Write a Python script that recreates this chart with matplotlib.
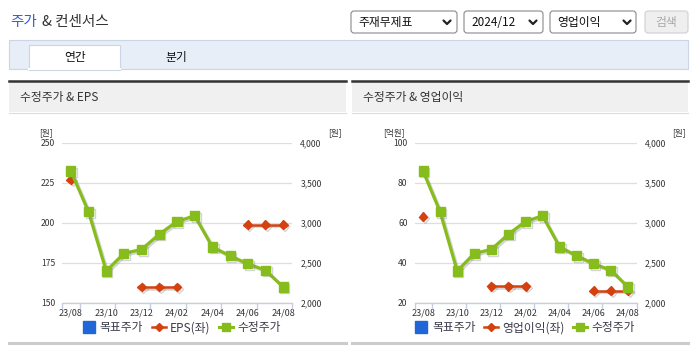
import numpy as np
import matplotlib
matplotlib.use('Agg')
import matplotlib.pyplot as plt
import matplotlib.patheffects as pe
from matplotlib.patches import Rectangle, FancyBboxPatch
from matplotlib.lines import Line2D
from matplotlib.ticker import FuncFormatter

plt.rcParams['font.family'] = ['Noto Sans CJK KR', 'DejaVu Sans']

# monthly data
months = ['23/08', '23/09', '23/10', '23/11', '23/12', '24/01', '24/02',
          '24/03', '24/04', '24/05', '24/06', '24/07', '24/08']
price = [3650, 3140, 2400, 2620, 2670, 2860, 3020, 3090, 2700, 2590, 2490, 2410, 2200]
eps = [227, np.nan, np.nan, np.nan, 160, 160, 160, np.nan, np.nan, np.nan, 199, 199, 199]
op_profit = [63.2, np.nan, np.nan, np.nan, 28.3, 28.3, 28.3, np.nan, np.nan, np.nan, 26.2, 26.2, 26.2]

GREEN = '#86bd1c'
RED = '#d4410f'
BLUE = '#2166d6'
TXT = '#333333'

W, H = 695, 349
fig = plt.figure(figsize=(W / 100, H / 100), dpi=100)

# page frame in pixel coordinates
ui = fig.add_axes([0, 0, 1, 1], zorder=0)
ui.set_xlim(0, W)
ui.set_ylim(H, 0)
ui.axis('off')

ui.text(10, 22, '주가', color='#2f5fcf', fontsize=10.5, va='center', ha='left')
ui.text(42, 22, '& 컨센서스', color=TXT, fontsize=10.5, va='center', ha='left')

# selection boxes
def dropdown(x0, x1, label, chev_x):
    ui.add_patch(FancyBboxPatch((x0, 11), x1 - x0, 22, boxstyle='round,pad=0,rounding_size=3',
                                fc='white', ec='#8a8a8a', lw=0.8))
    ui.text(x0 + 7, 22.5, label, fontsize=8.5, color='#111111', va='center', ha='left')
    ui.plot([chev_x - 3.5, chev_x, chev_x + 3.5], [20.5, 24, 20.5], color='#222222', lw=1.6,
            solid_capstyle='round', solid_joinstyle='round')

dropdown(351, 457, '주재무제표', 447)
dropdown(464, 543, '2024/12', 533)
dropdown(550, 636, '영업이익', 627)
ui.add_patch(FancyBboxPatch((645, 11), 43, 22, boxstyle='round,pad=0,rounding_size=3',
                            fc='#efefef', ec='#cfcfcf', lw=0.8))
ui.text(666.5, 22.5, '검색', fontsize=8.5, color='#a8a8a8', va='center', ha='center')

# tab bar
ui.add_patch(Rectangle((9, 40), 679, 29, fc='#e8eef8', ec='#cbd5e3', lw=0.8))
ui.add_patch(Rectangle((29, 45), 91, 25, fc='white', ec='#cbd5e3', lw=0.8))
ui.plot([29.4, 119.6], [69, 69], color='white', lw=1.5)
ui.text(75, 57.5, '연간', fontsize=8.5, color='#111111', va='center', ha='center')
ui.text(176, 57.5, '분기', fontsize=8.5, color='#111111', va='center', ha='center')

# panel headers and footers
for px0, px1, title in [(9, 346, '수정주가 & EPS'), (352, 688, '수정주가 & 영업이익')]:
    ui.add_patch(Rectangle((px0, 81), px1 - px0, 31, fc='#f0f0f0', ec='none'))
    ui.plot([px0, px1], [81, 81], color='#333333', lw=1.8)
    ui.plot([px0, px1], [112.5, 112.5], color='#dcdcdc', lw=0.8)
    ui.text(px0 + 11, 97, title, fontsize=8.5, color=TXT, va='center', ha='left')
    ui.plot([px0, px1], [342.5, 342.5], color='#cccccc', lw=2.2)

x = np.arange(len(months))


def chart(left, width, series, sname, ylim, yticks, unit_l, unit_l_x, unit_r_x, legend_cx):
    ax = fig.add_axes([left / W, 1 - 303 / H, width / W, 160 / H], zorder=2)
    ax2 = ax.twinx()
    ax.set_xlim(-0.5, len(months) - 0.5)
    ax.set_ylim(*ylim)
    ax.set_yticks(yticks)
    ax2.set_ylim(2000, 4000)
    ax2.set_yticks([2000, 2500, 3000, 3500, 4000])
    ax2.yaxis.set_major_formatter(FuncFormatter(lambda v, p: f'{int(v):,}'))

    for a in (ax, ax2):
        for s in a.spines.values():
            s.set_visible(False)
    ax.spines['bottom'].set_visible(True)
    ax.spines['bottom'].set_color('#c5cfdd')
    ax.spines['bottom'].set_linewidth(1.0)

    ax.grid(axis='y', color='#dedede', lw=0.9)
    ax.set_axisbelow(True)
    ax.tick_params(axis='y', length=0, pad=5, labelsize=6.2, labelcolor=TXT)
    ax2.tick_params(axis='y', length=0, pad=6, labelsize=6.2, labelcolor=TXT)

    ax.set_xticks(x[::2])
    ax.set_xticklabels(months[::2])
    ax.set_xticks(np.concatenate(([-0.5, 0.5], np.arange(2.5, len(months), 2))), minor=True)
    ax.tick_params(axis='x', which='major', length=0, pad=4, labelsize=6.5, labelcolor=TXT)
    ax.tick_params(axis='x', which='minor', length=4, width=1, color='#c5cfdd')

    shadow = [pe.SimpleLineShadow(offset=(1.2, -1.2), shadow_color='#888888', alpha=0.35), pe.Normal()]
    ax.plot(x, series, color=RED, lw=1.8, marker='D', ms=4.5, zorder=3, path_effects=shadow)
    ax2.plot(x, price, color=GREEN, lw=2.3, marker='s', ms=6.5, zorder=4, path_effects=shadow)
    # price line sits above the left-axis series
    ax.set_zorder(2)
    ax2.set_zorder(3)
    ax2.patch.set_visible(False)

    ui.text(unit_l_x, 133, unit_l, fontsize=6.2, color=TXT, ha='center', va='center')
    ui.text(unit_r_x, 133, '[원]', fontsize=6.2, color=TXT, ha='center', va='center')

    handles = [Line2D([], [], ls='none', marker='s', ms=8, color=BLUE),
               Line2D([], [], color=RED, lw=1.8, marker='D', ms=4.5),
               Line2D([], [], color=GREEN, lw=2.2, marker='s', ms=6)]
    fig.legend(handles, ['목표주가', sname, '수정주가'], loc='center',
               bbox_to_anchor=(legend_cx / W, 1 - 328 / H), ncol=3, frameon=False,
               fontsize=8.5, handlelength=1.2, handletextpad=0.35, columnspacing=0.7,
               labelcolor='#3a3a4a')


chart(62, 230, eps, 'EPS(좌)', (150, 250), [150, 175, 200, 225, 250], '[원]', 46, 335, 181)
chart(414.5, 222, op_profit, '영업이익(좌)', (20, 100), [20, 40, 60, 80, 100], '[억원]', 394, 679, 524)

fig.savefig('out.png', dpi=100)
